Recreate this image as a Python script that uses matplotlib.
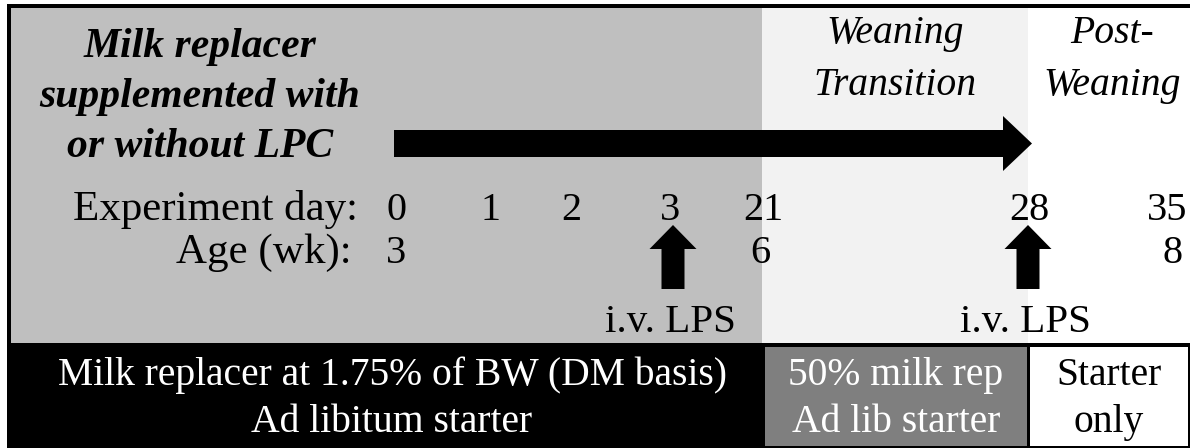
import matplotlib.pyplot as plt
from matplotlib.patches import Rectangle, FancyArrow

# ---- content ----
phase_titles = ['', 'Weaning\nTransition', 'Post-\nWeaning']
phase_colors = ['#bfbfbf', '#f2f2f2', '#ffffff']
treatment_lines = ['Milk replacer', 'supplemented with', 'or without LPC']

day_labels = ['0', '1', '2', '3', '21', '28', '35']
age_labels = ['3', '6', '8']
lps_label = 'i.v. LPS'

diet_lines = [['Milk replacer at 1.75% of BW (DM basis)', 'Ad libitum starter'],
              ['50% milk rep', 'Ad lib starter'],
              ['Starter', 'only']]
diet_colors = ['black', '#7f7f7f', 'white']
diet_text_colors = ['white', 'white', 'black']

# ---- layout (pixel coords) ----
W, H = 1190, 448
phase_edges = [11, 762, 1028, 1190]
day_x = [396, 490, 571, 670, 763, 1029, 1167]
age_x = [396, 760, 1173]
lps_x = [673, 1028]
diet_edges = [(11, 763), (765, 1027), (1030, 1188)]

serif = 'Liberation Serif'

fig = plt.figure(figsize=(W / 100, H / 100), dpi=100)
ax = fig.add_axes([0, 0, 1, 1])
ax.set_xlim(0, W)
ax.set_ylim(H, 0)
ax.axis('off')

# outer frame + bottom black band
ax.add_patch(Rectangle((7, 4), W - 7, H - 4, color='black', lw=0))

# phase backgrounds
for i, c in enumerate(phase_colors):
    ax.add_patch(Rectangle((phase_edges[i], 8), phase_edges[i + 1] - phase_edges[i], 335, color=c, lw=0))

# phase titles
title_x = [None, 895, 1112]
for i, t in enumerate(phase_titles):
    if not t:
        continue
    for j, line in enumerate(t.split('\n')):
        ax.text(title_x[i], 43 + 52 * j, line, ha='center', va='baseline',
                family=serif, style='italic', fontsize=28.5)

# treatment label
for j, line in enumerate(treatment_lines):
    ax.text(200, 57 + 50 * j, line, ha='center', va='baseline',
            family=serif, style='italic', weight='bold', fontsize=30)

# long horizontal arrow
ax.add_patch(FancyArrow(394, 143.5, 638, 0, width=27, head_width=55, head_length=29,
                        length_includes_head=True, color='black', lw=0))

# day / age rows
ax.text(358, 220, 'Experiment day:', ha='right', va='baseline', family=serif, fontsize=31)
ax.text(352, 263, 'Age (wk):', ha='right', va='baseline', family=serif, fontsize=31)
for lab, x in zip(day_labels, day_x):
    ax.text(x, 220, lab, ha='center', va='baseline', family=serif, fontsize=29)
for lab, x in zip(age_labels, age_x):
    ax.text(x, 263, lab, ha='center', va='baseline', family=serif, fontsize=29)

# LPS challenge arrows
for x in lps_x:
    ax.add_patch(FancyArrow(x, 289, 0, -64, width=23, head_width=47, head_length=24,
                            length_includes_head=True, color='black', lw=0))
    ax.text(x - 3, 332, lps_label, ha='center', va='baseline', family=serif, fontsize=29.5)

# diet boxes
for (x0, x1), c, tc, lines in zip(diet_edges, diet_colors, diet_text_colors, diet_lines):
    ax.add_patch(Rectangle((x0, 347), x1 - x0, 99, color=c, lw=0))
    xc = (x0 + x1) / 2 + (5 if c == 'black' else 0)
    ax.text(xc, 385, lines[0], ha='center', va='baseline', family=serif, fontsize=28.5, color=tc)
    ax.text(xc, 432, lines[1], ha='center', va='baseline', family=serif, fontsize=28.5, color=tc)

fig.savefig('out.png', dpi=100)
